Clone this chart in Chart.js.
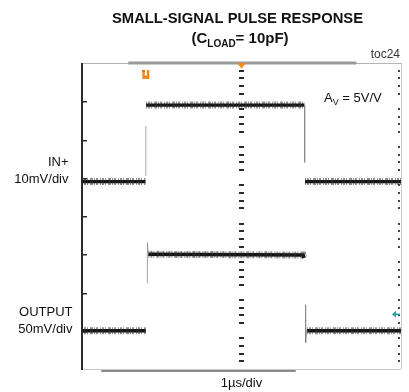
<!DOCTYPE html>
<html>
<head>
<meta charset="utf-8">
<script src="https://cdn.jsdelivr.net/npm/chart.js@4.4.1/dist/chart.umd.min.js"></script>
<style>
  html, body { margin: 0; padding: 0; background: #fff; }
  canvas { display: block; }
</style>
</head>
<body>
<canvas id="scope" width="409" height="392"></canvas>
<script>
// Time base: 1 µs/div, 10 divisions across the screen
const X_DIVS = 10;
const Y_DIVS = 8;

// IN+ channel, 10 mV/div, values in mV relative to its baseline
const IN_MV_PER_DIV = 10;
const IN_OFFSET_DIV = 4.9;
const inLevelT  = [0, 1.99, null, 2.01, 6.97, null, 6.99, 10];
const inLevelMv = [0, 0,    null, 20,   20,   null, 0,    0];
const inEdgeT   = [2.0, 2.0,  null, 6.98, 6.98];
const inEdgeMv  = [1.5, 14.5, null, 20,   5];

// OUTPUT channel, 50 mV/div, values in mV relative to its baseline
const OUT_MV_PER_DIV = 50;
const OUT_OFFSET_DIV = 1.0;
const outLevelT  = [0, 2.0, null, 2.08, 6.93, 6.96, null, 7.05, 10];
const outLevelMv = [0, 0,   null, 100,  99,   95,   null, 0,    0];
const outEdgeT   = [2.05, 2.05, 2.08, null, 7.01, 7.01, 7.05];
const outEdgeMv  = [62,   115,  100,  null, 34,   -16,  0];

function toPoints(ts, mvs, offsetDiv, mvPerDiv) {
  return ts.map((t, i) => {
    if (t === null || mvs[i] === null) {
      return { x: ts[i - 1], y: null };
    }
    return { x: t, y: offsetDiv + mvs[i] / mvPerDiv };
  });
}

const inLevel  = toPoints(inLevelT, inLevelMv, IN_OFFSET_DIV, IN_MV_PER_DIV);
const inEdge   = toPoints(inEdgeT, inEdgeMv, IN_OFFSET_DIV, IN_MV_PER_DIV);
const outLevel = toPoints(outLevelT, outLevelMv, OUT_OFFSET_DIV, OUT_MV_PER_DIV);
const outEdge  = toPoints(outEdgeT, outEdgeMv, OUT_OFFSET_DIV, OUT_MV_PER_DIV);

const FONT = '"Liberation Sans", Arial, Helvetica, sans-serif';

const edgeStyle = {
  borderColor: 'rgba(130,130,130,0.7)',
  borderWidth: 1,
  pointRadius: 0,
  spanGaps: false,
  tension: 0
};
// wide soft band for the trace's grass, broken up so it reads as noise
const haloStyle = {
  borderColor: 'rgba(50,50,50,0.55)',
  borderWidth: 7,
  borderDash: [1, 1, 2, 1, 1, 2, 3, 1, 1, 1, 2, 2],
  pointRadius: 0,
  spanGaps: false,
  tension: 0,
  soft: true
};
const coreStyle = {
  borderColor: '#101010',
  borderWidth: 3.4,
  pointRadius: 0,
  spanGaps: false,
  tension: 0
};

// Softens the noise band a little
const softBand = {
  id: 'softBand',
  beforeDatasetDraw(chart, args) {
    const ds = chart.data.datasets[args.index];
    chart.ctx.save();
    if (ds.soft) chart.ctx.filter = 'blur(0.7px)';
  },
  afterDatasetDraw(chart) {
    chart.ctx.restore();
  }
};

// Screen furniture: borders, scroll bars, graticule ticks
const screenFrame = {
  id: 'screenFrame',
  beforeDatasetsDraw(chart) {
    const { ctx, chartArea: a, scales: { x, y } } = chart;
    ctx.save();

    // right and bottom frame lines
    ctx.strokeStyle = '#c8c8c8';
    ctx.lineWidth = 1;
    ctx.beginPath();
    ctx.moveTo(a.right + 0.5, a.top);
    ctx.lineTo(a.right + 0.5, a.bottom);
    ctx.moveTo(a.left, a.bottom + 0.5);
    ctx.lineTo(a.right, a.bottom + 0.5);
    ctx.stroke();

    // top frame line with position bar
    ctx.strokeStyle = '#b4b4b4';
    ctx.beginPath();
    ctx.moveTo(a.left, a.top + 0.5);
    ctx.lineTo(a.right, a.top + 0.5);
    ctx.stroke();
    ctx.fillStyle = '#9a9a9a';
    ctx.fillRect(x.getPixelForValue(1.45), a.top - 1.5, x.getPixelForValue(8.6) - x.getPixelForValue(1.45), 3);

    // bottom position bar
    ctx.fillStyle = '#8a8a8a';
    ctx.fillRect(x.getPixelForValue(0.6), a.bottom + 1, x.getPixelForValue(6.7) - x.getPixelForValue(0.6), 2);

    // left axis with major ticks
    ctx.fillStyle = '#2a2a2a';
    ctx.fillRect(a.left - 1, a.top, 2, a.bottom - a.top + 1);
    for (let i = 1; i < Y_DIVS; i++) {
      const py = Math.round(y.getPixelForValue(i));
      ctx.fillRect(a.left, py, 5, 1.5);
    }

    // centre dotted graticule and right edge minor ticks
    const cx = x.getPixelForValue(X_DIVS / 2);
    for (let i = 0; i < Y_DIVS; i++) {
      for (let k = 1; k <= 4; k++) {
        const py = y.getPixelForValue(Y_DIVS - i - k / 5);
        ctx.fillStyle = '#2a2a2a';
        ctx.fillRect(Math.round(cx - 2.5), Math.round(py - 1), 5, 2);
        ctx.fillStyle = '#444';
        ctx.fillRect(a.right - 3, Math.round(py - 1), 2, 2);
      }
    }
    ctx.restore();
  }
};

// Labels, annotations and channel markers
const screenText = {
  id: 'screenText',
  afterDatasetsDraw(chart) {
    const { ctx, chartArea: a, scales: { x, y } } = chart;
    ctx.save();
    ctx.textBaseline = 'alphabetic';
    ctx.fillStyle = '#111';

    // title
    ctx.font = 'bold 15px ' + FONT;
    ctx.textAlign = 'center';
    const title = 'SMALL-SIGNAL PULSE RESPONSE';
    const tw = ctx.measureText(title).width;
    ctx.save();
    ctx.translate(237.5, 23);
    ctx.scale(251 / tw, 1);
    ctx.fillText(title, 0, 0);
    ctx.restore();

    // (C_LOAD= 10pF)
    const parts = [
      { t: '(C', f: 'bold 15px ' + FONT, dy: 0 },
      { t: 'LOAD', f: 'bold 10px ' + FONT, dy: 3.5 },
      { t: '= 10pF)', f: 'bold 15px ' + FONT, dy: 0 }
    ];
    let total = 0;
    parts.forEach(p => { ctx.font = p.f; p.w = ctx.measureText(p.t).width; total += p.w; });
    let px = 240 - total / 2;
    ctx.textAlign = 'left';
    parts.forEach(p => { ctx.font = p.f; ctx.fillText(p.t, px, 43 + p.dy); px += p.w; });

    // figure tag
    ctx.font = '12px ' + FONT;
    ctx.fillStyle = '#333';
    ctx.textAlign = 'right';
    ctx.fillText('toc24', 400, 58);

    // gain annotation
    ctx.fillStyle = '#111';
    ctx.textAlign = 'left';
    ctx.font = '13px ' + FONT;
    ctx.fillText('A', 324, 101.5);
    let ax = 324 + ctx.measureText('A').width;
    ctx.font = '9px ' + FONT;
    ctx.fillText('V', ax, 104.5);
    ax += ctx.measureText('V').width;
    ctx.font = '13px ' + FONT;
    ctx.fillText(' = 5V/V', ax, 101.5);

    // channel labels
    ctx.textAlign = 'right';
    ctx.font = '13px ' + FONT;
    ctx.fillText('IN+', 68.5, 165.5);
    ctx.fillText('10mV/div', 68.5, 182.5);
    ctx.fillText('OUTPUT', 72.5, 316);
    ctx.fillText('50mV/div', 72.5, 333);

    // time base
    ctx.textAlign = 'center';
    ctx.fillText('1\u00b5s/div', x.getPixelForValue(X_DIVS / 2), 387);

    // trigger position marker at top centre
    const cx = x.getPixelForValue(X_DIVS / 2);
    ctx.fillStyle = '#f28a1a';
    ctx.beginPath();
    ctx.moveTo(cx - 4.5, a.top);
    ctx.lineTo(cx + 4.5, a.top);
    ctx.lineTo(cx, a.top + 5.5);
    ctx.closePath();
    ctx.fill();

    // trigger level marker
    const tx = x.getPixelForValue(2.0);
    ctx.fillStyle = '#f08a1c';
    ctx.fillRect(tx - 3.5, 70, 7, 9);
    ctx.fillStyle = '#fff';
    ctx.fillRect(tx - 1, 70, 2, 5.5);
    ctx.fillStyle = '#d86a00';
    ctx.fillRect(tx - 3.5, 70, 2.5, 2);

    // output ground reference arrow
    const gy = y.getPixelForValue(OUT_OFFSET_DIV + 50 / OUT_MV_PER_DIV * 0.43);
    ctx.fillStyle = '#1ea5a5';
    ctx.strokeStyle = '#1ea5a5';
    ctx.lineWidth = 1.5;
    ctx.beginPath();
    ctx.moveTo(a.right - 9, gy);
    ctx.lineTo(a.right - 5, gy - 3.5);
    ctx.lineTo(a.right - 5, gy + 3.5);
    ctx.closePath();
    ctx.fill();
    ctx.beginPath();
    ctx.moveTo(a.right - 6, gy);
    ctx.lineTo(a.right - 1, gy);
    ctx.stroke();

    ctx.restore();
  }
};

new Chart(document.getElementById('scope'), {
  type: 'line',
  data: {
    datasets: [
      Object.assign({ label: 'IN+ edges', data: inEdge }, edgeStyle),
      Object.assign({ label: 'OUTPUT edges', data: outEdge }, edgeStyle),
      Object.assign({ label: 'IN+ noise', data: inLevel }, haloStyle),
      Object.assign({ label: 'OUTPUT noise', data: outLevel }, haloStyle),
      Object.assign({ label: 'IN+', data: inLevel }, coreStyle),
      Object.assign({ label: 'OUTPUT', data: outLevel }, coreStyle)
    ]
  },
  options: {
    responsive: false,
    animation: false,
    events: [],
    layout: { padding: { left: 82, right: 8, top: 63, bottom: 23 } },
    plugins: {
      legend: { display: false },
      tooltip: { enabled: false },
      title: { display: false }
    },
    scales: {
      x: { type: 'linear', min: 0, max: X_DIVS, display: false },
      y: { type: 'linear', min: 0, max: Y_DIVS, display: false }
    }
  },
  plugins: [softBand, screenFrame, screenText]
});
</script>
</body>
</html>
